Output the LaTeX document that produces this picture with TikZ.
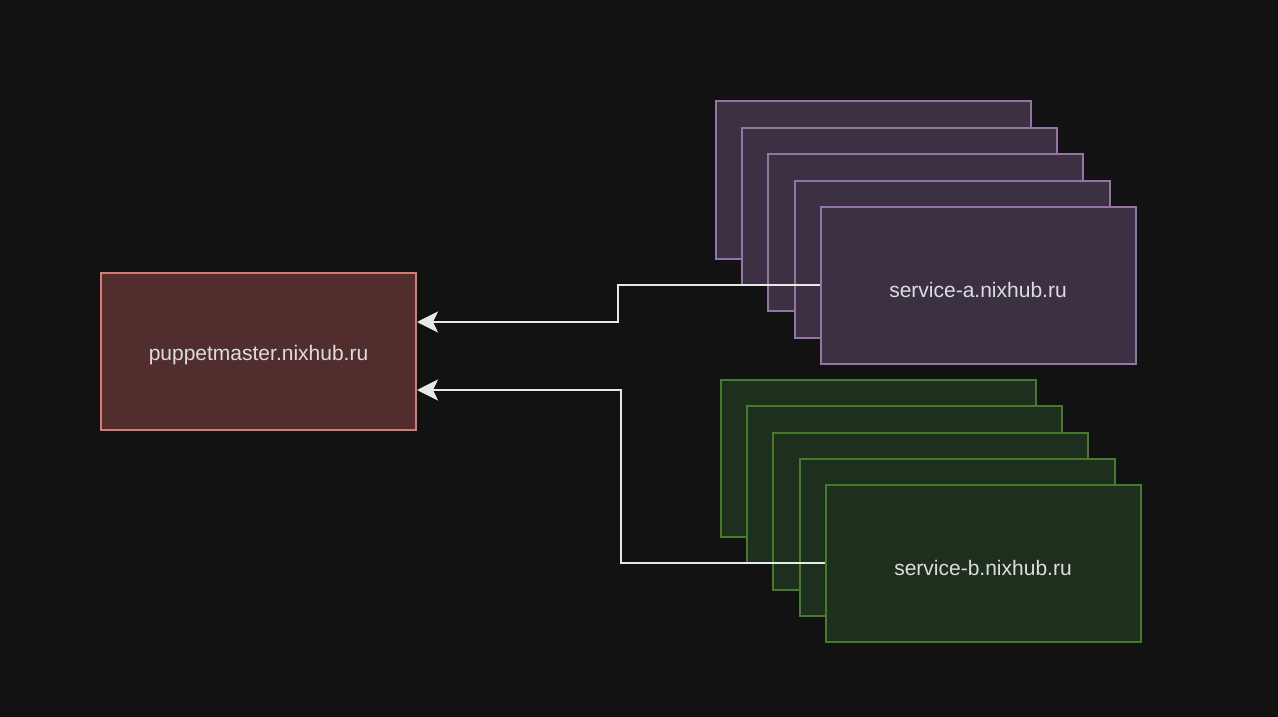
\documentclass[tikz,border=0pt]{standalone}
\usepackage{fontspec}
\setmainfont{Liberation Sans}
\usetikzlibrary{arrows.meta}
\definecolor{bg}{HTML}{121212}
\definecolor{redfill}{HTML}{512E2D}
\definecolor{redline}{HTML}{D47B76}
\definecolor{purfill}{HTML}{3C3142}
\definecolor{purline}{HTML}{9673A6}
\definecolor{grnfill}{HTML}{1F2F1E}
\definecolor{grnline}{HTML}{467A2E}
\definecolor{txt}{HTML}{DDDDDD}
\definecolor{wire}{HTML}{E8E8E8}
\tikzset{
  box/.style={draw, line width=2pt, minimum width=315pt, minimum height=157pt, inner sep=0pt},
  lbl/.style={text=txt, font=\fontsize{21}{24}\selectfont},
  redbox/.style={box, fill=redfill, draw=redline},
  purbox/.style={box, fill=purfill, draw=purline},
  grnbox/.style={box, fill=grnfill, draw=grnline},
  conn/.style={draw=wire, line width=2pt, -{Stealth[length=21pt,width=21pt,inset=5pt]}},
}
\begin{document}
\begin{tikzpicture}[x=1pt,y=-1pt]
\fill[bg] (0,0) rectangle (1278,717);
\useasboundingbox (0,0) rectangle (1278,717);
\node[redbox] (pm) at (258.5,351) {};
\node[lbl] (pmt) at (258.5,355.5) {puppetmaster.nixhub.ru};

\node[purbox] (a1) at (873,180) {};
\node[purbox] (a2) at (899,206) {};
\node[purbox] (a3) at (925,232.5) {};
\node[purbox] (a4) at (952,259) {};
\node[purbox] (sa) at (978,285) {};
\node[lbl] (sat) at (978,289.5) {service-a.nixhub.ru};

\node[grnbox] (b1) at (878,458) {};
\node[grnbox] (b2) at (904,484) {};
\node[grnbox] (b3) at (930.5,511) {};
\node[grnbox] (b4) at (957,537) {};
\node[grnbox] (sb) at (983,563) {};
\node[lbl] (sbt) at (983,567.5) {service-b.nixhub.ru};

\draw[conn] (sa.west) -- (618,285) -- (618,322) -- ([yshift=29pt]pm.east);
\draw[conn] (sb.west) -- (621,563) -- (621,390) -- ([yshift=-39pt]pm.east);
\end{tikzpicture}
\end{document}
